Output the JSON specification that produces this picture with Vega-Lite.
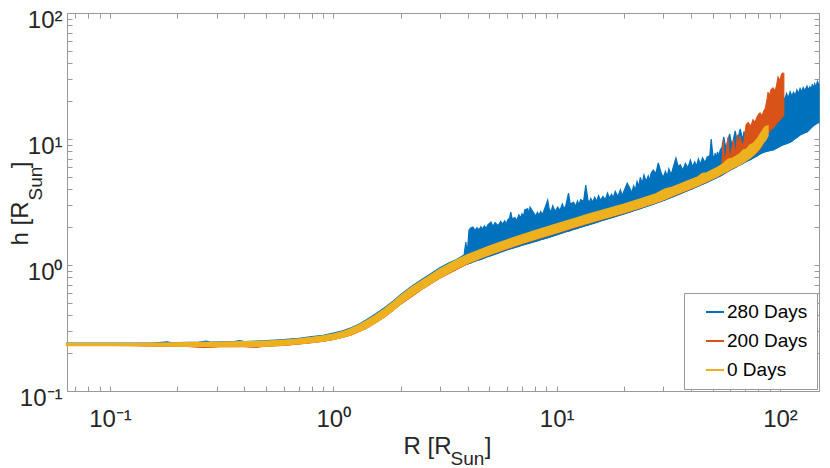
{
  "$schema": "https://vega.github.io/schema/vega-lite/v6.json",
  "width": 752,
  "height": 378,
  "autosize": {"type": "none"},
  "padding": {"left": 67, "top": 13, "right": 11, "bottom": 77},
  "background": "white",
  "config": {
    "font": "Liberation Sans",
    "view": {"stroke": null},
    "axis": {"grid": false, "domainColor": "#999999", "tickColor": "#999999", "labelColor": "#262626", "titleColor": "#262626", "titleFontWeight": "normal"}
  },
  "data": {
    "values": [
      {"s": "0 Days", "R": 0.0642, "lo": 0.231, "hi": 0.237},
      {"s": "0 Days", "R": 0.08, "lo": 0.231, "hi": 0.237},
      {"s": "0 Days", "R": 0.1, "lo": 0.231, "hi": 0.237},
      {"s": "0 Days", "R": 0.13, "lo": 0.231, "hi": 0.237},
      {"s": "0 Days", "R": 0.16, "lo": 0.230, "hi": 0.238},
      {"s": "0 Days", "R": 0.19, "lo": 0.229, "hi": 0.239},
      {"s": "0 Days", "R": 0.22, "lo": 0.228, "hi": 0.240},
      {"s": "0 Days", "R": 0.25, "lo": 0.229, "hi": 0.241},
      {"s": "0 Days", "R": 0.28, "lo": 0.227, "hi": 0.241},
      {"s": "0 Days", "R": 0.32, "lo": 0.228, "hi": 0.242},
      {"s": "0 Days", "R": 0.36, "lo": 0.227, "hi": 0.243},
      {"s": "0 Days", "R": 0.40, "lo": 0.228, "hi": 0.244},
      {"s": "0 Days", "R": 0.45, "lo": 0.228, "hi": 0.245},
      {"s": "0 Days", "R": 0.50, "lo": 0.229, "hi": 0.247},
      {"s": "0 Days", "R": 0.55, "lo": 0.231, "hi": 0.249},
      {"s": "0 Days", "R": 0.60, "lo": 0.233, "hi": 0.251},
      {"s": "0 Days", "R": 0.65, "lo": 0.236, "hi": 0.254},
      {"s": "0 Days", "R": 0.70, "lo": 0.239, "hi": 0.257},
      {"s": "0 Days", "R": 0.75, "lo": 0.242, "hi": 0.261},
      {"s": "0 Days", "R": 0.80, "lo": 0.245, "hi": 0.264},
      {"s": "0 Days", "R": 0.85, "lo": 0.248, "hi": 0.268},
      {"s": "0 Days", "R": 0.90, "lo": 0.251, "hi": 0.271},
      {"s": "0 Days", "R": 0.95, "lo": 0.255, "hi": 0.276},
      {"s": "0 Days", "R": 1.0, "lo": 0.259, "hi": 0.281},
      {"s": "0 Days", "R": 1.1, "lo": 0.268, "hi": 0.293},
      {"s": "0 Days", "R": 1.2, "lo": 0.282, "hi": 0.311},
      {"s": "0 Days", "R": 1.3, "lo": 0.300, "hi": 0.331},
      {"s": "0 Days", "R": 1.4, "lo": 0.318, "hi": 0.357},
      {"s": "0 Days", "R": 1.55, "lo": 0.352, "hi": 0.398},
      {"s": "0 Days", "R": 1.7, "lo": 0.393, "hi": 0.447},
      {"s": "0 Days", "R": 1.85, "lo": 0.440, "hi": 0.502},
      {"s": "0 Days", "R": 2.0, "lo": 0.495, "hi": 0.567},
      {"s": "0 Days", "R": 2.25, "lo": 0.578, "hi": 0.663},
      {"s": "0 Days", "R": 2.5, "lo": 0.652, "hi": 0.749},
      {"s": "0 Days", "R": 2.75, "lo": 0.726, "hi": 0.835},
      {"s": "0 Days", "R": 3.0, "lo": 0.80, "hi": 0.92},
      {"s": "0 Days", "R": 3.5, "lo": 0.93, "hi": 1.07},
      {"s": "0 Days", "R": 4.0, "lo": 1.04, "hi": 1.20},
      {"s": "0 Days", "R": 4.5, "lo": 1.135, "hi": 1.305},
      {"s": "0 Days", "R": 5.0, "lo": 1.22, "hi": 1.40},
      {"s": "0 Days", "R": 6.0, "lo": 1.37, "hi": 1.57},
      {"s": "0 Days", "R": 7.0, "lo": 1.50, "hi": 1.72},
      {"s": "0 Days", "R": 8.0, "lo": 1.62, "hi": 1.86},
      {"s": "0 Days", "R": 10, "lo": 1.82, "hi": 2.10},
      {"s": "0 Days", "R": 12, "lo": 2.02, "hi": 2.32},
      {"s": "0 Days", "R": 14, "lo": 2.19, "hi": 2.53},
      {"s": "0 Days", "R": 17, "lo": 2.42, "hi": 2.78},
      {"s": "0 Days", "R": 20, "lo": 2.62, "hi": 3.02},
      {"s": "0 Days", "R": 24, "lo": 2.90, "hi": 3.34},
      {"s": "0 Days", "R": 28, "lo": 3.18, "hi": 3.66},
      {"s": "0 Days", "R": 30.5, "lo": 3.36, "hi": 3.98},
      {"s": "0 Days", "R": 33, "lo": 3.58, "hi": 4.12},
      {"s": "0 Days", "R": 38, "lo": 3.95, "hi": 4.55},
      {"s": "0 Days", "R": 43, "lo": 4.32, "hi": 4.98},
      {"s": "0 Days", "R": 45, "lo": 4.50, "hi": 5.30},
      {"s": "0 Days", "R": 47, "lo": 4.65, "hi": 5.35},
      {"s": "0 Days", "R": 52, "lo": 5.05, "hi": 5.85},
      {"s": "0 Days", "R": 56, "lo": 5.45, "hi": 6.35},
      {"s": "0 Days", "R": 58.5, "lo": 5.65, "hi": 6.85},
      {"s": "0 Days", "R": 61, "lo": 5.90, "hi": 6.95},
      {"s": "0 Days", "R": 66, "lo": 6.30, "hi": 7.55},
      {"s": "0 Days", "R": 68.5, "lo": 6.55, "hi": 8.10},
      {"s": "0 Days", "R": 71, "lo": 6.85, "hi": 8.25},
      {"s": "0 Days", "R": 73.5, "lo": 7.15, "hi": 8.90},
      {"s": "0 Days", "R": 76, "lo": 7.55, "hi": 9.15},
      {"s": "0 Days", "R": 80, "lo": 8.3, "hi": 10.2},
      {"s": "0 Days", "R": 84, "lo": 9.4, "hi": 11.7},
      {"s": "0 Days", "R": 86, "lo": 9.9, "hi": 12.4},
      {"s": "0 Days", "R": 88, "lo": 10.6, "hi": 12.6},

      {"s": "200 Days", "R": 0.0642, "lo": 0.231, "hi": 0.236},
      {"s": "200 Days", "R": 0.1, "lo": 0.231, "hi": 0.236},
      {"s": "200 Days", "R": 0.16, "lo": 0.229, "hi": 0.237},
      {"s": "200 Days", "R": 0.22, "lo": 0.227, "hi": 0.239},
      {"s": "200 Days", "R": 0.27, "lo": 0.222, "hi": 0.240},
      {"s": "200 Days", "R": 0.32, "lo": 0.227, "hi": 0.241},
      {"s": "200 Days", "R": 0.40, "lo": 0.226, "hi": 0.243},
      {"s": "200 Days", "R": 0.45, "lo": 0.223, "hi": 0.244},
      {"s": "200 Days", "R": 0.50, "lo": 0.228, "hi": 0.246},
      {"s": "200 Days", "R": 0.60, "lo": 0.231, "hi": 0.250},
      {"s": "200 Days", "R": 0.70, "lo": 0.237, "hi": 0.256},
      {"s": "200 Days", "R": 0.80, "lo": 0.243, "hi": 0.263},
      {"s": "200 Days", "R": 0.90, "lo": 0.249, "hi": 0.270},
      {"s": "200 Days", "R": 1.0, "lo": 0.257, "hi": 0.280},
      {"s": "200 Days", "R": 1.2, "lo": 0.279, "hi": 0.309},
      {"s": "200 Days", "R": 1.4, "lo": 0.315, "hi": 0.355},
      {"s": "200 Days", "R": 1.7, "lo": 0.389, "hi": 0.444},
      {"s": "200 Days", "R": 2.0, "lo": 0.490, "hi": 0.563},
      {"s": "200 Days", "R": 2.5, "lo": 0.646, "hi": 0.744},
      {"s": "200 Days", "R": 3.0, "lo": 0.79, "hi": 0.915},
      {"s": "200 Days", "R": 4.0, "lo": 1.03, "hi": 1.19},
      {"s": "200 Days", "R": 5.0, "lo": 1.21, "hi": 1.39},
      {"s": "200 Days", "R": 7.0, "lo": 1.48, "hi": 1.71},
      {"s": "200 Days", "R": 10, "lo": 1.80, "hi": 2.09},
      {"s": "200 Days", "R": 14, "lo": 2.16, "hi": 2.51},
      {"s": "200 Days", "R": 20, "lo": 2.59, "hi": 3.0},
      {"s": "200 Days", "R": 28, "lo": 3.14, "hi": 3.64},
      {"s": "200 Days", "R": 38, "lo": 3.90, "hi": 4.52},
      {"s": "200 Days", "R": 47, "lo": 4.59, "hi": 5.32},
      {"s": "200 Days", "R": 52, "lo": 5.0, "hi": 5.8},
      {"s": "200 Days", "R": 53, "lo": 5.1, "hi": 6.0},
      {"s": "200 Days", "R": 55.0, "lo": 5.3, "hi": 6.2},
      {"s": "200 Days", "R": 55.7, "lo": 5.35, "hi": 9.8},
      {"s": "200 Days", "R": 56.4, "lo": 5.4, "hi": 6.4},
      {"s": "200 Days", "R": 57.5, "lo": 5.5, "hi": 7.8},
      {"s": "200 Days", "R": 58.5, "lo": 5.6, "hi": 10.3},
      {"s": "200 Days", "R": 59.5, "lo": 5.7, "hi": 6.8},
      {"s": "200 Days", "R": 61, "lo": 5.85, "hi": 8.6},
      {"s": "200 Days", "R": 62, "lo": 5.95, "hi": 10.0},
      {"s": "200 Days", "R": 63, "lo": 6.05, "hi": 7.2},
      {"s": "200 Days", "R": 64.5, "lo": 6.2, "hi": 10.8},
      {"s": "200 Days", "R": 65.5, "lo": 6.3, "hi": 8.6},
      {"s": "200 Days", "R": 66.3, "lo": 6.35, "hi": 10.6},
      {"s": "200 Days", "R": 67.5, "lo": 6.45, "hi": 8.7},
      {"s": "200 Days", "R": 69, "lo": 6.6, "hi": 9.6},
      {"s": "200 Days", "R": 70.5, "lo": 6.8, "hi": 12.9},
      {"s": "200 Days", "R": 72, "lo": 6.95, "hi": 13.5},
      {"s": "200 Days", "R": 74, "lo": 7.2, "hi": 12.6},
      {"s": "200 Days", "R": 75.7, "lo": 7.4, "hi": 14.2},
      {"s": "200 Days", "R": 77.3, "lo": 7.6, "hi": 13.5},
      {"s": "200 Days", "R": 79, "lo": 7.9, "hi": 15.0},
      {"s": "200 Days", "R": 80.5, "lo": 8.2, "hi": 15.8},
      {"s": "200 Days", "R": 81.4, "lo": 8.4, "hi": 16.1},
      {"s": "200 Days", "R": 83, "lo": 8.9, "hi": 15.2},
      {"s": "200 Days", "R": 84.5, "lo": 9.5, "hi": 16.5},
      {"s": "200 Days", "R": 86, "lo": 10.2, "hi": 17.5},
      {"s": "200 Days", "R": 87.5, "lo": 10.8, "hi": 20.5},
      {"s": "200 Days", "R": 88.4, "lo": 11.2, "hi": 23.6},
      {"s": "200 Days", "R": 89.5, "lo": 11.6, "hi": 21.5},
      {"s": "200 Days", "R": 91, "lo": 12.0, "hi": 24.5},
      {"s": "200 Days", "R": 93, "lo": 12.2, "hi": 25.4},
      {"s": "200 Days", "R": 95, "lo": 12.9, "hi": 24.0},
      {"s": "200 Days", "R": 96.5, "lo": 13.4, "hi": 26.5},
      {"s": "200 Days", "R": 98, "lo": 13.8, "hi": 31.0},
      {"s": "200 Days", "R": 100, "lo": 14.3, "hi": 29.0},
      {"s": "200 Days", "R": 101.5, "lo": 14.8, "hi": 32.5},
      {"s": "200 Days", "R": 103, "lo": 15.2, "hi": 33.4},
      {"s": "200 Days", "R": 104, "lo": 15.5, "hi": 33.0},

      {"s": "280 Days", "R": 0.0642, "lo": 0.231, "hi": 0.240},
      {"s": "280 Days", "R": 0.08, "lo": 0.231, "hi": 0.240},
      {"s": "280 Days", "R": 0.1, "lo": 0.231, "hi": 0.240},
      {"s": "280 Days", "R": 0.13, "lo": 0.231, "hi": 0.240},
      {"s": "280 Days", "R": 0.16, "lo": 0.230, "hi": 0.241},
      {"s": "280 Days", "R": 0.18, "lo": 0.230, "hi": 0.246},
      {"s": "280 Days", "R": 0.19, "lo": 0.229, "hi": 0.241},
      {"s": "280 Days", "R": 0.22, "lo": 0.228, "hi": 0.243},
      {"s": "280 Days", "R": 0.25, "lo": 0.229, "hi": 0.244},
      {"s": "280 Days", "R": 0.27, "lo": 0.228, "hi": 0.249},
      {"s": "280 Days", "R": 0.28, "lo": 0.227, "hi": 0.244},
      {"s": "280 Days", "R": 0.32, "lo": 0.228, "hi": 0.246},
      {"s": "280 Days", "R": 0.36, "lo": 0.227, "hi": 0.247},
      {"s": "280 Days", "R": 0.38, "lo": 0.228, "hi": 0.251},
      {"s": "280 Days", "R": 0.40, "lo": 0.228, "hi": 0.247},
      {"s": "280 Days", "R": 0.45, "lo": 0.228, "hi": 0.249},
      {"s": "280 Days", "R": 0.50, "lo": 0.229, "hi": 0.251},
      {"s": "280 Days", "R": 0.55, "lo": 0.231, "hi": 0.254},
      {"s": "280 Days", "R": 0.60, "lo": 0.233, "hi": 0.256},
      {"s": "280 Days", "R": 0.65, "lo": 0.236, "hi": 0.259},
      {"s": "280 Days", "R": 0.70, "lo": 0.239, "hi": 0.262},
      {"s": "280 Days", "R": 0.80, "lo": 0.245, "hi": 0.270},
      {"s": "280 Days", "R": 0.90, "lo": 0.251, "hi": 0.277},
      {"s": "280 Days", "R": 1.0, "lo": 0.259, "hi": 0.288},
      {"s": "280 Days", "R": 1.1, "lo": 0.268, "hi": 0.300},
      {"s": "280 Days", "R": 1.2, "lo": 0.282, "hi": 0.318},
      {"s": "280 Days", "R": 1.3, "lo": 0.300, "hi": 0.339},
      {"s": "280 Days", "R": 1.4, "lo": 0.318, "hi": 0.366},
      {"s": "280 Days", "R": 1.55, "lo": 0.352, "hi": 0.41},
      {"s": "280 Days", "R": 1.7, "lo": 0.393, "hi": 0.46},
      {"s": "280 Days", "R": 1.85, "lo": 0.44, "hi": 0.515},
      {"s": "280 Days", "R": 2.0, "lo": 0.495, "hi": 0.58},
      {"s": "280 Days", "R": 2.25, "lo": 0.578, "hi": 0.68},
      {"s": "280 Days", "R": 2.5, "lo": 0.652, "hi": 0.77},
      {"s": "280 Days", "R": 2.75, "lo": 0.726, "hi": 0.86},
      {"s": "280 Days", "R": 3.0, "lo": 0.80, "hi": 0.95},
      {"s": "280 Days", "R": 3.3, "lo": 0.88, "hi": 1.04},
      {"s": "280 Days", "R": 3.54, "lo": 0.93, "hi": 1.10},
      {"s": "280 Days", "R": 3.73, "lo": 0.97, "hi": 1.16},
      {"s": "280 Days", "R": 3.85, "lo": 1.0, "hi": 1.20},
      {"s": "280 Days", "R": 3.92, "lo": 1.01, "hi": 1.52},
      {"s": "280 Days", "R": 3.98, "lo": 1.02, "hi": 1.25},
      {"s": "280 Days", "R": 4.05, "lo": 1.03, "hi": 1.90},
      {"s": "280 Days", "R": 4.12, "lo": 1.04, "hi": 1.97},
      {"s": "280 Days", "R": 4.22, "lo": 1.06, "hi": 2.00},
      {"s": "280 Days", "R": 4.31, "lo": 1.075, "hi": 1.88},
      {"s": "280 Days", "R": 4.4, "lo": 1.09, "hi": 1.98},
      {"s": "280 Days", "R": 4.49, "lo": 1.10, "hi": 1.90},
      {"s": "280 Days", "R": 4.58, "lo": 1.11, "hi": 2.02},
      {"s": "280 Days", "R": 4.66, "lo": 1.125, "hi": 1.93},
      {"s": "280 Days", "R": 4.75, "lo": 1.14, "hi": 2.05},
      {"s": "280 Days", "R": 4.83, "lo": 1.155, "hi": 1.95},
      {"s": "280 Days", "R": 4.92, "lo": 1.17, "hi": 2.08},
      {"s": "280 Days", "R": 5.08, "lo": 1.19, "hi": 2.19},
      {"s": "280 Days", "R": 5.19, "lo": 1.205, "hi": 2.02},
      {"s": "280 Days", "R": 5.3, "lo": 1.22, "hi": 2.17},
      {"s": "280 Days", "R": 5.46, "lo": 1.245, "hi": 2.05},
      {"s": "280 Days", "R": 5.62, "lo": 1.27, "hi": 2.22},
      {"s": "280 Days", "R": 5.73, "lo": 1.285, "hi": 2.10},
      {"s": "280 Days", "R": 5.85, "lo": 1.30, "hi": 2.24},
      {"s": "280 Days", "R": 5.94, "lo": 1.315, "hi": 2.12},
      {"s": "280 Days", "R": 6.04, "lo": 1.33, "hi": 2.28},
      {"s": "280 Days", "R": 6.15, "lo": 1.34, "hi": 2.35},
      {"s": "280 Days", "R": 6.23, "lo": 1.35, "hi": 2.63},
      {"s": "280 Days", "R": 6.32, "lo": 1.36, "hi": 2.32},
      {"s": "280 Days", "R": 6.5, "lo": 1.38, "hi": 2.38},
      {"s": "280 Days", "R": 6.63, "lo": 1.395, "hi": 2.25},
      {"s": "280 Days", "R": 6.77, "lo": 1.41, "hi": 2.50},
      {"s": "280 Days", "R": 6.88, "lo": 1.425, "hi": 2.36},
      {"s": "280 Days", "R": 7.0, "lo": 1.44, "hi": 2.55},
      {"s": "280 Days", "R": 7.1, "lo": 1.45, "hi": 2.42},
      {"s": "280 Days", "R": 7.2, "lo": 1.46, "hi": 2.75},
      {"s": "280 Days", "R": 7.42, "lo": 1.48, "hi": 2.80},
      {"s": "280 Days", "R": 7.51, "lo": 1.49, "hi": 2.55},
      {"s": "280 Days", "R": 7.6, "lo": 1.50, "hi": 2.88},
      {"s": "280 Days", "R": 7.89, "lo": 1.53, "hi": 2.60},
      {"s": "280 Days", "R": 8.05, "lo": 1.545, "hi": 2.45},
      {"s": "280 Days", "R": 8.2, "lo": 1.56, "hi": 2.62},
      {"s": "280 Days", "R": 8.34, "lo": 1.575, "hi": 2.48},
      {"s": "280 Days", "R": 8.48, "lo": 1.59, "hi": 2.66},
      {"s": "280 Days", "R": 8.64, "lo": 1.605, "hi": 2.52},
      {"s": "280 Days", "R": 8.8, "lo": 1.62, "hi": 2.75},
      {"s": "280 Days", "R": 9.12, "lo": 1.65, "hi": 3.28},
      {"s": "280 Days", "R": 9.25, "lo": 1.66, "hi": 2.82},
      {"s": "280 Days", "R": 9.42, "lo": 1.68, "hi": 2.62},
      {"s": "280 Days", "R": 9.6, "lo": 1.70, "hi": 2.95},
      {"s": "280 Days", "R": 9.85, "lo": 1.725, "hi": 2.66},
      {"s": "280 Days", "R": 10.1, "lo": 1.75, "hi": 2.88},
      {"s": "280 Days", "R": 10.35, "lo": 1.775, "hi": 2.72},
      {"s": "280 Days", "R": 10.6, "lo": 1.80, "hi": 3.05},
      {"s": "280 Days", "R": 10.8, "lo": 1.82, "hi": 2.78},
      {"s": "280 Days", "R": 11.0, "lo": 1.84, "hi": 2.98},
      {"s": "280 Days", "R": 11.3, "lo": 1.86, "hi": 3.72},
      {"s": "280 Days", "R": 11.5, "lo": 1.88, "hi": 3.05},
      {"s": "280 Days", "R": 11.9, "lo": 1.92, "hi": 3.15},
      {"s": "280 Days", "R": 12.15, "lo": 1.94, "hi": 2.92},
      {"s": "280 Days", "R": 12.4, "lo": 1.96, "hi": 3.22},
      {"s": "280 Days", "R": 12.6, "lo": 1.98, "hi": 3.0},
      {"s": "280 Days", "R": 12.8, "lo": 2.00, "hi": 3.30},
      {"s": "280 Days", "R": 13.2, "lo": 2.03, "hi": 3.20},
      {"s": "280 Days", "R": 13.5, "lo": 2.06, "hi": 4.31},
      {"s": "280 Days", "R": 13.8, "lo": 2.08, "hi": 3.30},
      {"s": "280 Days", "R": 14.0, "lo": 2.095, "hi": 3.1},
      {"s": "280 Days", "R": 14.2, "lo": 2.11, "hi": 3.38},
      {"s": "280 Days", "R": 14.5, "lo": 2.135, "hi": 3.15},
      {"s": "280 Days", "R": 14.8, "lo": 2.16, "hi": 3.45},
      {"s": "280 Days", "R": 15.1, "lo": 2.185, "hi": 3.2},
      {"s": "280 Days", "R": 15.4, "lo": 2.21, "hi": 3.55},
      {"s": "280 Days", "R": 15.75, "lo": 2.24, "hi": 3.25},
      {"s": "280 Days", "R": 16.1, "lo": 2.27, "hi": 3.50},
      {"s": "280 Days", "R": 16.5, "lo": 2.30, "hi": 3.3},
      {"s": "280 Days", "R": 16.9, "lo": 2.33, "hi": 3.72},
      {"s": "280 Days", "R": 17.25, "lo": 2.355, "hi": 3.38},
      {"s": "280 Days", "R": 17.6, "lo": 2.38, "hi": 3.65},
      {"s": "280 Days", "R": 17.95, "lo": 2.405, "hi": 3.45},
      {"s": "280 Days", "R": 18.3, "lo": 2.43, "hi": 3.85},
      {"s": "280 Days", "R": 18.8, "lo": 2.465, "hi": 3.5},
      {"s": "280 Days", "R": 19.3, "lo": 2.50, "hi": 3.95},
      {"s": "280 Days", "R": 19.65, "lo": 2.525, "hi": 3.55},
      {"s": "280 Days", "R": 20.0, "lo": 2.55, "hi": 3.85},
      {"s": "280 Days", "R": 20.7, "lo": 2.60, "hi": 4.47},
      {"s": "280 Days", "R": 21.3, "lo": 2.64, "hi": 4.05},
      {"s": "280 Days", "R": 21.7, "lo": 2.67, "hi": 3.75},
      {"s": "280 Days", "R": 22.1, "lo": 2.70, "hi": 4.25},
      {"s": "280 Days", "R": 22.5, "lo": 2.73, "hi": 3.95},
      {"s": "280 Days", "R": 22.9, "lo": 2.76, "hi": 4.60},
      {"s": "280 Days", "R": 23.3, "lo": 2.785, "hi": 4.2},
      {"s": "280 Days", "R": 23.7, "lo": 2.81, "hi": 4.95},
      {"s": "280 Days", "R": 24.15, "lo": 2.845, "hi": 4.45},
      {"s": "280 Days", "R": 24.6, "lo": 2.88, "hi": 5.20},
      {"s": "280 Days", "R": 25.15, "lo": 2.915, "hi": 4.6},
      {"s": "280 Days", "R": 25.7, "lo": 2.95, "hi": 5.10},
      {"s": "280 Days", "R": 26.1, "lo": 2.98, "hi": 4.7},
      {"s": "280 Days", "R": 26.5, "lo": 3.01, "hi": 5.37},
      {"s": "280 Days", "R": 27.1, "lo": 3.05, "hi": 5.67},
      {"s": "280 Days", "R": 27.8, "lo": 3.10, "hi": 5.30},
      {"s": "280 Days", "R": 28.5, "lo": 3.15, "hi": 6.45},
      {"s": "280 Days", "R": 29.3, "lo": 3.21, "hi": 5.45},
      {"s": "280 Days", "R": 30.0, "lo": 3.255, "hi": 4.95},
      {"s": "280 Days", "R": 30.7, "lo": 3.30, "hi": 5.55},
      {"s": "280 Days", "R": 31.25, "lo": 3.345, "hi": 5.05},
      {"s": "280 Days", "R": 31.8, "lo": 3.39, "hi": 5.80},
      {"s": "280 Days", "R": 32.55, "lo": 3.445, "hi": 5.2},
      {"s": "280 Days", "R": 33.3, "lo": 3.50, "hi": 6.0},
      {"s": "280 Days", "R": 34.2, "lo": 3.57, "hi": 7.06},
      {"s": "280 Days", "R": 35.0, "lo": 3.63, "hi": 6.05},
      {"s": "280 Days", "R": 35.8, "lo": 3.69, "hi": 6.25},
      {"s": "280 Days", "R": 36.7, "lo": 3.765, "hi": 5.65},
      {"s": "280 Days", "R": 37.7, "lo": 3.84, "hi": 6.40},
      {"s": "280 Days", "R": 38.7, "lo": 3.91, "hi": 5.9},
      {"s": "280 Days", "R": 39.7, "lo": 3.98, "hi": 6.81},
      {"s": "280 Days", "R": 40.6, "lo": 4.05, "hi": 6.0},
      {"s": "280 Days", "R": 41.5, "lo": 4.12, "hi": 6.6},
      {"s": "280 Days", "R": 42.3, "lo": 4.18, "hi": 6.1},
      {"s": "280 Days", "R": 43.1, "lo": 4.24, "hi": 6.95},
      {"s": "280 Days", "R": 44.0, "lo": 4.31, "hi": 6.3},
      {"s": "280 Days", "R": 45.0, "lo": 4.38, "hi": 7.10},
      {"s": "280 Days", "R": 46.1, "lo": 4.465, "hi": 6.5},
      {"s": "280 Days", "R": 47.2, "lo": 4.55, "hi": 7.19},
      {"s": "280 Days", "R": 48.5, "lo": 4.66, "hi": 7.35},
      {"s": "280 Days", "R": 49.2, "lo": 4.72, "hi": 9.98},
      {"s": "280 Days", "R": 50.0, "lo": 4.78, "hi": 7.5},
      {"s": "280 Days", "R": 50.6, "lo": 4.83, "hi": 6.9},
      {"s": "280 Days", "R": 51.3, "lo": 4.88, "hi": 7.74},
      {"s": "280 Days", "R": 51.9, "lo": 4.93, "hi": 7.1},
      {"s": "280 Days", "R": 52.5, "lo": 4.98, "hi": 7.9},
      {"s": "280 Days", "R": 53.2, "lo": 5.04, "hi": 7.3},
      {"s": "280 Days", "R": 54.0, "lo": 5.10, "hi": 8.18},
      {"s": "280 Days", "R": 55.0, "lo": 5.2, "hi": 8.6},
      {"s": "280 Days", "R": 56.0, "lo": 5.3, "hi": 10.4},
      {"s": "280 Days", "R": 57.0, "lo": 5.4, "hi": 8.8},
      {"s": "280 Days", "R": 57.5, "lo": 5.45, "hi": 8.2},
      {"s": "280 Days", "R": 58.0, "lo": 5.5, "hi": 9.3},
      {"s": "280 Days", "R": 59.5, "lo": 5.65, "hi": 11.0},
      {"s": "280 Days", "R": 60.5, "lo": 5.75, "hi": 9.5},
      {"s": "280 Days", "R": 61.1, "lo": 5.8, "hi": 8.7},
      {"s": "280 Days", "R": 61.7, "lo": 5.85, "hi": 9.7},
      {"s": "280 Days", "R": 63.0, "lo": 5.95, "hi": 11.6},
      {"s": "280 Days", "R": 64.0, "lo": 6.05, "hi": 10.0},
      {"s": "280 Days", "R": 64.5, "lo": 6.1, "hi": 9.1},
      {"s": "280 Days", "R": 65.0, "lo": 6.15, "hi": 10.2},
      {"s": "280 Days", "R": 66.3, "lo": 6.25, "hi": 12.0},
      {"s": "280 Days", "R": 67.5, "lo": 6.35, "hi": 10.6},
      {"s": "280 Days", "R": 68.2, "lo": 6.42, "hi": 9.8},
      {"s": "280 Days", "R": 69.0, "lo": 6.5, "hi": 11.5},
      {"s": "280 Days", "R": 70.1, "lo": 6.6, "hi": 10.4},
      {"s": "280 Days", "R": 71.2, "lo": 6.7, "hi": 12.4},
      {"s": "280 Days", "R": 72.5, "lo": 6.8, "hi": 11.8},
      {"s": "280 Days", "R": 73.2, "lo": 6.85, "hi": 10.9},
      {"s": "280 Days", "R": 74.0, "lo": 6.9, "hi": 12.2},
      {"s": "280 Days", "R": 74.8, "lo": 6.98, "hi": 11.2},
      {"s": "280 Days", "R": 75.7, "lo": 7.06, "hi": 12.6},
      {"s": "280 Days", "R": 77.0, "lo": 7.2, "hi": 12.9},
      {"s": "280 Days", "R": 78.9, "lo": 7.35, "hi": 12.9},
      {"s": "280 Days", "R": 81.0, "lo": 7.6, "hi": 13.8},
      {"s": "280 Days", "R": 84.0, "lo": 7.85, "hi": 15.2},
      {"s": "280 Days", "R": 88.4, "lo": 8.05, "hi": 17.0},
      {"s": "280 Days", "R": 93.0, "lo": 8.2, "hi": 19.3},
      {"s": "280 Days", "R": 98, "lo": 8.6, "hi": 20.8},
      {"s": "280 Days", "R": 100, "lo": 8.8, "hi": 19.2},
      {"s": "280 Days", "R": 103, "lo": 9.0, "hi": 22.0},
      {"s": "280 Days", "R": 105, "lo": 9.1, "hi": 20.5},
      {"s": "280 Days", "R": 107, "lo": 9.2, "hi": 23.0},
      {"s": "280 Days", "R": 109, "lo": 9.35, "hi": 21.2},
      {"s": "280 Days", "R": 111, "lo": 9.45, "hi": 23.8},
      {"s": "280 Days", "R": 113, "lo": 9.65, "hi": 22.0},
      {"s": "280 Days", "R": 115, "lo": 9.9, "hi": 23.5},
      {"s": "280 Days", "R": 117, "lo": 10.1, "hi": 22.2},
      {"s": "280 Days", "R": 119, "lo": 10.3, "hi": 24.5},
      {"s": "280 Days", "R": 121, "lo": 10.55, "hi": 23.0},
      {"s": "280 Days", "R": 123, "lo": 10.8, "hi": 25.2},
      {"s": "280 Days", "R": 125, "lo": 10.95, "hi": 23.6},
      {"s": "280 Days", "R": 127, "lo": 11.1, "hi": 25.6},
      {"s": "280 Days", "R": 129, "lo": 11.25, "hi": 24.2},
      {"s": "280 Days", "R": 132, "lo": 11.4, "hi": 26.3},
      {"s": "280 Days", "R": 134, "lo": 11.7, "hi": 24.5},
      {"s": "280 Days", "R": 136, "lo": 12.0, "hi": 26.0},
      {"s": "280 Days", "R": 138, "lo": 12.35, "hi": 24.8},
      {"s": "280 Days", "R": 139.5, "lo": 12.55, "hi": 27.2},
      {"s": "280 Days", "R": 141, "lo": 12.8, "hi": 25.0},
      {"s": "280 Days", "R": 143, "lo": 13.0, "hi": 27.5},
      {"s": "280 Days", "R": 145, "lo": 13.2, "hi": 25.8},
      {"s": "280 Days", "R": 147, "lo": 13.4, "hi": 28.6},
      {"s": "280 Days", "R": 149.5, "lo": 13.6, "hi": 27.0}
    ]
  },
  "layer": [
    {
      "mark": {"type": "line", "opacity": 0},
      "transform": [{"filter": "datum.s == '0 Days'"}],
      "encoding": {
        "x": {
          "field": "R", "type": "quantitative",
          "scale": {"type": "log", "domain": [0.0642, 149.5], "nice": false},
          "axis": {
            "orient": "top", "labels": false, "tickSize": -5,
            "values": [0.07, 0.08, 0.09, 0.1, 0.2, 0.3, 0.4, 0.5, 0.6, 0.7, 0.8, 0.9, 1, 2, 3, 4, 5, 6, 7, 8, 9, 10, 20, 30, 40, 50, 60, 70, 80, 90, 100],
            "title": "Sun", "titleFontSize": 19, "titleAngle": 0,
            "titleX": 383, "titleY": 451, "titleAlign": "left", "titleBaseline": "alphabetic"
          }
        },
        "y": {
          "field": "lo", "type": "quantitative",
          "scale": {"type": "log", "domain": [0.1, 100], "nice": false},
          "axis": {
            "orient": "right", "labels": false, "tickSize": -5,
            "values": [0.1, 0.2, 0.3, 0.4, 0.5, 0.6, 0.7, 0.8, 0.9, 1, 2, 3, 4, 5, 6, 7, 8, 9, 10, 20, 30, 40, 50, 60, 70, 80, 90, 100],
            "title": "Sun", "titleFontSize": 19, "titleAngle": 270,
            "titleX": -778, "titleY": 187, "titleAlign": "left", "titleBaseline": "alphabetic"
          }
        }
      }
    },
    {
      "mark": {"type": "area", "color": "#0072BD", "stroke": "#0072BD", "strokeWidth": 1.2},
      "transform": [{"filter": "datum.s == '280 Days'"}],
      "encoding": {
        "x": {
          "field": "R", "type": "quantitative",
          "scale": {"type": "log", "domain": [0.0642, 149.5], "nice": false},
          "axis": {
            "orient": "bottom", "tickSize": -5, "labelPadding": 21,
            "values": [0.07, 0.08, 0.09, 0.1, 0.2, 0.3, 0.4, 0.5, 0.6, 0.7, 0.8, 0.9, 1, 2, 3, 4, 5, 6, 7, 8, 9, 10, 20, 30, 40, 50, 60, 70, 80, 90, 100],
            "labelExpr": "datum.value == 0.1 ? '10\u207b\u00b9' : datum.value == 1 ? '10\u2070' : datum.value == 10 ? '10\u00b9' : datum.value == 100 ? '10\u00b2' : ''",
            "labelFontSize": 24, "labelOverlap": false, "labelFlush": false, "labelBound": false,
            "title": "R [R\u00a0\u00a0\u00a0\u00a0\u00a0]", "titleFontSize": 24,
            "titleX": 336, "titleY": 62, "titleAlign": "left", "titleBaseline": "alphabetic"
          }
        },
        "y": {
          "field": "lo", "type": "quantitative",
          "scale": {"type": "log", "domain": [0.1, 100], "nice": false},
          "axis": {
            "orient": "left", "tickSize": -5, "labelPadding": 10, "labelOffset": 7,
            "values": [0.1, 0.2, 0.3, 0.4, 0.5, 0.6, 0.7, 0.8, 0.9, 1, 2, 3, 4, 5, 6, 7, 8, 9, 10, 20, 30, 40, 50, 60, 70, 80, 90, 100],
            "labelExpr": "datum.value == 0.1 ? '10\u207b\u00b9' : datum.value == 1 ? '10\u2070' : datum.value == 10 ? '10\u00b9' : datum.value == 100 ? '10\u00b2' : ''",
            "labelFontSize": 24, "labelOverlap": false, "labelFlush": false, "labelBound": false,
            "title": "h [R\u00a0\u00a0\u00a0\u00a0\u00a0]", "titleFontSize": 24, "titleAngle": 270,
            "titleX": -40, "titleY": 232, "titleAlign": "left", "titleBaseline": "alphabetic"
          }
        },
        "y2": {"field": "hi"}
      }
    },
    {
      "mark": {"type": "line", "strokeWidth": 1.5},
      "transform": [{"filter": "datum.s == '280 Days'"}],
      "encoding": {
        "x": {"field": "R", "type": "quantitative", "scale": {"type": "log", "domain": [0.0642, 149.5], "nice": false}, "axis": null},
        "y": {"field": "lo", "type": "quantitative", "scale": {"type": "log", "domain": [0.1, 100], "nice": false}, "axis": null},
        "color": {
          "field": "s", "type": "nominal",
          "scale": {"domain": ["280 Days", "200 Days", "0 Days"], "range": ["#0072BD", "#D95319", "#EDB120"]},
          "legend": {
            "title": null, "orient": "bottom-right", "offset": 2,
            "labelFontSize": 19, "labelColor": "#000000", "labelOffset": 2,
            "symbolType": "stroke", "symbolSize": 324, "symbolStrokeWidth": 2, "symbolOffset": 12,
            "rowPadding": 9, "padding": 9,
            "strokeColor": "#999999", "fillColor": "white"
          }
        }
      }
    },
    {
      "mark": {"type": "area", "color": "#D95319", "stroke": "#D95319", "strokeWidth": 1.2},
      "transform": [{"filter": "datum.s == '200 Days'"}],
      "encoding": {
        "x": {"field": "R", "type": "quantitative", "scale": {"type": "log", "domain": [0.0642, 149.5], "nice": false}, "axis": null},
        "y": {"field": "lo", "type": "quantitative", "scale": {"type": "log", "domain": [0.1, 100], "nice": false}, "axis": null},
        "y2": {"field": "hi"}
      }
    },
    {
      "mark": {"type": "line", "strokeWidth": 1.5},
      "transform": [{"filter": "datum.s == '200 Days'"}],
      "encoding": {
        "x": {"field": "R", "type": "quantitative", "scale": {"type": "log", "domain": [0.0642, 149.5], "nice": false}, "axis": null},
        "y": {"field": "lo", "type": "quantitative", "scale": {"type": "log", "domain": [0.1, 100], "nice": false}, "axis": null},
        "color": {"field": "s", "type": "nominal"}
      }
    },
    {
      "mark": {"type": "area", "color": "#EDB120", "stroke": "#EDB120", "strokeWidth": 2.2},
      "transform": [{"filter": "datum.s == '0 Days'"}],
      "encoding": {
        "x": {"field": "R", "type": "quantitative", "scale": {"type": "log", "domain": [0.0642, 149.5], "nice": false}, "axis": null},
        "y": {"field": "lo", "type": "quantitative", "scale": {"type": "log", "domain": [0.1, 100], "nice": false}, "axis": null},
        "y2": {"field": "hi"}
      }
    },
    {
      "mark": {"type": "line", "strokeWidth": 1.5},
      "transform": [{"filter": "datum.s == '0 Days'"}],
      "encoding": {
        "x": {"field": "R", "type": "quantitative", "scale": {"type": "log", "domain": [0.0642, 149.5], "nice": false}, "axis": null},
        "y": {"field": "lo", "type": "quantitative", "scale": {"type": "log", "domain": [0.1, 100], "nice": false}, "axis": null},
        "color": {"field": "s", "type": "nominal"}
      }
    }
  ],
  "resolve": {"axis": {"x": "independent", "y": "independent"}}
}
